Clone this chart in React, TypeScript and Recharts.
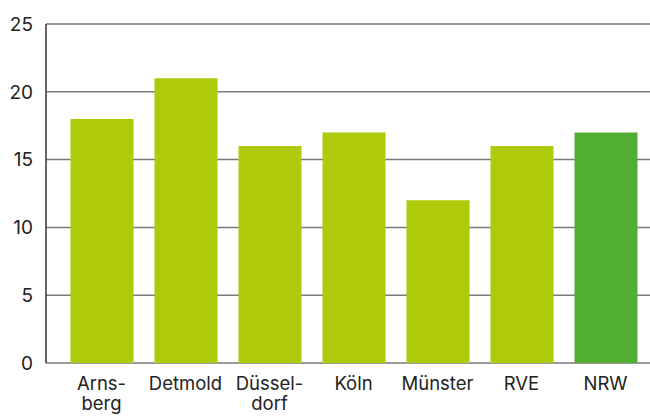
import React from "react";
import { BarChart, Bar, XAxis, YAxis, CartesianGrid, Cell } from "recharts";

const categories = ["Arns-\nberg", "Detmold", "Düssel-\ndorf", "Köln", "Münster", "RVE", "NRW"];
const values = [18, 21, 16, 17, 12, 16, 17];
const colors = ["#afca0b", "#afca0b", "#afca0b", "#afca0b", "#afca0b", "#afca0b", "#52ae32"];
const yTicks = [0, 5, 10, 15, 20, 25];

const data = categories.map((c, i) => ({ name: c, value: values[i] }));

const FONT = "Inter, sans-serif";

const XTick = (props: any) => {
  const { x, y, payload } = props;
  const lines = String(payload.value).split("\n");
  return (
    <text x={x} y={y + 27} textAnchor="middle" fill="#222" fontSize={18.5} fontFamily={FONT}>
      {lines.map((l, i) => (
        <tspan key={i} x={x} dy={i === 0 ? 0 : 20}>
          {l}
        </tspan>
      ))}
    </text>
  );
};

export default function App() {
  return (
    <div style={{ position: "absolute", left: 0, top: 0, background: "#fff" }}>
      <BarChart
        width={650}
        height={416}
        data={data}
        margin={{ top: 24, right: 0, bottom: 0, left: 0 }}
      >
        <CartesianGrid horizontal vertical={false} stroke="#7a7a7a" strokeWidth={1.5} />
        <XAxis
          dataKey="name"
          height={53}
          axisLine={false}
          tickLine={false}
          tickSize={0}
          tickMargin={0}
          interval={0}
          padding={{ left: 13.5, right: 2.5 }}
          tick={<XTick />}
        />
        <YAxis
          width={46}
          domain={[0, 25]}
          ticks={yTicks}
          interval={0}
          axisLine={{ stroke: "#333", strokeWidth: 1.5 }}
          tickLine={false}
          tickSize={0}
          tickMargin={13}
          tick={{ fill: "#222", fontSize: 19, fontFamily: FONT }}
        />
        <Bar dataKey="value" barSize={63} isAnimationActive={false}>
          {data.map((d, i) => (
            <Cell key={i} fill={colors[i]} />
          ))}
        </Bar>
      </BarChart>
    </div>
  );
}
